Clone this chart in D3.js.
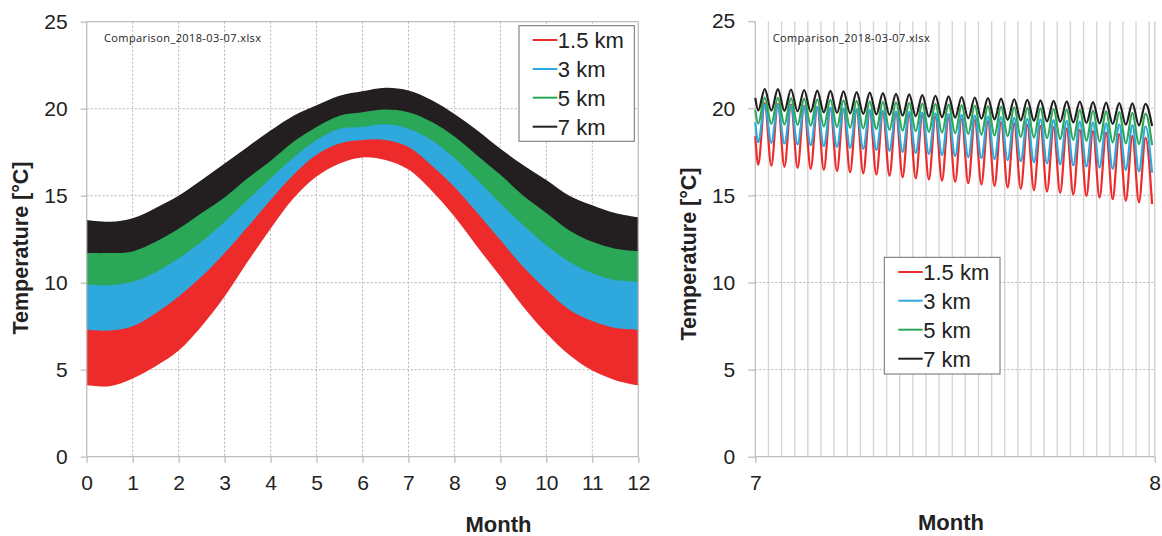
<!DOCTYPE html>
<html>
<head>
<meta charset="utf-8">
<script src="https://cdn.jsdelivr.net/npm/d3@7"></script>
<style>
  html, body { margin: 0; padding: 0; background: #fff; }
  svg { display: block; font-family: "Liberation Sans", Arial, sans-serif; }
</style>
</head>
<body>
<svg id="chart" width="1162" height="536"></svg>
<script>
// ---------------- DATA ----------------
const seriesNames = ["1.5 km", "3 km", "5 km", "7 km"];
const seriesColors = ["#ee2b2b", "#2ea8dd", "#2aa858", "#231f20"];
const yTicks = [0, 5, 10, 15, 20, 25];
const leftXTicks = [0, 1, 2, 3, 4, 5, 6, 7, 8, 9, 10, 11, 12];
const rightXTicks = [7, 8];
const fileLabel = "Comparison_2018-03-07.xlsx";

// Left chart: daily min / max envelope of each series, sampled every half month
const monthSamples = [0, 0.5, 1, 1.5, 2, 2.5, 3, 3.5, 4, 4.5, 5, 5.5, 6, 6.5, 7, 7.5, 8, 8.5, 9, 9.5, 10, 10.5, 11, 11.5, 12];
const red15Min   = [4.1, 4.05, 4.5, 5.2, 6.1, 7.5, 9.2, 11.2, 13.1, 14.85, 16.1, 16.85, 17.2, 17.05, 16.5, 15.3, 13.8, 12.05, 10.35, 8.6, 7.1, 5.85, 4.95, 4.4, 4.1];
const red15Max   = [12.2, 12.2, 12.3, 12.85, 13.6, 14.5, 15.4, 16.5, 17.5, 18.6, 19.45, 20.1, 20.3, 20.45, 20.3, 19.75, 18.9, 17.8, 16.7, 15.5, 14.5, 13.5, 12.85, 12.45, 12.3];
const blue3Min   = [7.3, 7.25, 7.5, 8.25, 9.2, 10.35, 11.7, 13.2, 14.75, 16.2, 17.35, 18.0, 18.2, 18.2, 17.8, 16.75, 15.5, 14.0, 12.45, 10.9, 9.6, 8.45, 7.8, 7.4, 7.3];
const blue3Max   = [12.1, 12.1, 12.2, 12.75, 13.5, 14.4, 15.3, 16.4, 17.4, 18.5, 19.35, 20.0, 20.2, 20.35, 20.2, 19.65, 18.8, 17.7, 16.6, 15.4, 14.4, 13.4, 12.75, 12.35, 12.2];
const green5Min  = [9.9, 9.85, 10.05, 10.6, 11.4, 12.35, 13.5, 14.75, 16.0, 17.2, 18.2, 18.85, 18.95, 19.1, 18.85, 18.2, 17.15, 15.9, 14.55, 13.3, 12.15, 11.2, 10.55, 10.15, 10.05];
const green5Max  = [12.5, 12.5, 12.6, 13.15, 13.9, 14.8, 15.7, 16.8, 17.8, 18.9, 19.75, 20.4, 20.6, 20.75, 20.6, 20.05, 19.2, 18.1, 17.0, 15.8, 14.8, 13.8, 13.15, 12.75, 12.6];
const black7Min  = [11.7, 11.7, 11.8, 12.35, 13.1, 14.0, 14.9, 16.0, 17.0, 18.1, 18.95, 19.6, 19.8, 19.95, 19.8, 19.25, 18.4, 17.3, 16.2, 15.0, 14.0, 13.0, 12.35, 11.95, 11.8];
const black7Max  = [13.6, 13.5, 13.7, 14.3, 15.0, 15.9, 16.85, 17.8, 18.75, 19.6, 20.2, 20.75, 21.0, 21.2, 21.05, 20.5, 19.7, 18.75, 17.7, 16.75, 15.9, 15.0, 14.45, 14.0, 13.75];

// Right chart: month 7 -> 8, daily troughs (31) and peaks (30)
const daysInMonth = 30.42;
const dayIndex = [0,1,2,3,4,5,6,7,8,9,10,11,12,13,14,15,16,17,18,19,20,21,22,23,24,25,26,27,28,29,30];
const startValues = [18.4, 19.2, 19.9, 20.6];
const red15DayMin = [16.75,16.70,16.64,16.58,16.52,16.46,16.40,16.33,16.26,16.19,16.12,16.05,15.98,15.91,15.84,15.77,15.70,15.62,15.54,15.46,15.38,15.30,15.22,15.14,15.05,14.96,14.87,14.78,14.69,14.60,14.50];
const red15DayMax = [20.30,20.26,20.21,20.15,20.09,20.03,19.97,19.91,19.85,19.79,19.73,19.66,19.60,19.53,19.47,19.40,19.33,19.27,19.20,19.13,19.06,18.99,18.92,18.85,18.77,18.69,18.61,18.52,18.42,18.30];
const blue3DayMin = [18.05,18.02,17.98,17.93,17.88,17.83,17.78,17.73,17.67,17.61,17.56,17.50,17.44,17.38,17.32,17.26,17.20,17.14,17.08,17.02,16.96,16.90,16.84,16.78,16.72,16.66,16.60,16.53,16.46,16.38,16.30];
const blue3DayMax = [20.20,20.18,20.15,20.11,20.07,20.03,19.99,19.95,19.91,19.87,19.83,19.79,19.75,19.71,19.67,19.62,19.58,19.54,19.50,19.45,19.41,19.37,19.32,19.28,19.23,19.18,19.13,19.08,19.03,18.97];
const green5DayMin = [19.12,19.10,19.07,19.04,19.00,18.96,18.92,18.88,18.84,18.80,18.76,18.72,18.68,18.64,18.60,18.56,18.52,18.48,18.44,18.40,18.36,18.32,18.28,18.24,18.19,18.14,18.09,18.04,17.99,17.94,17.89];
const green5DayMax = [20.62,20.60,20.58,20.55,20.52,20.49,20.46,20.43,20.40,20.37,20.34,20.31,20.28,20.25,20.22,20.19,20.16,20.13,20.10,20.06,20.03,20.00,19.96,19.93,19.89,19.86,19.82,19.78,19.74,19.70];
const black7DayMin = [19.88,19.87,19.85,19.83,19.80,19.77,19.74,19.71,19.68,19.65,19.62,19.58,19.55,19.52,19.49,19.46,19.43,19.40,19.37,19.34,19.31,19.28,19.25,19.22,19.19,19.16,19.13,19.10,19.06,19.02,18.98];
const black7DayMax = [21.10,21.10,21.08,21.05,21.02,21.00,20.97,20.93,20.90,20.87,20.83,20.80,20.76,20.72,20.69,20.65,20.62,20.58,20.55,20.52,20.49,20.46,20.43,20.40,20.38,20.35,20.33,20.30,20.28,20.25];
const troughPhase = 0.22, peakPhase = 0.72; // fraction of a day

// ---------------- DRAW ----------------
const svg = d3.select("#chart");
const txtColor = "#222";
const axisColor = "#bdbdbd";
const gridColor = "#b5b5b5";

const bandMins = [red15Min, blue3Min, green5Min, black7Min];
const bandMaxs = [red15Max, blue3Max, green5Max, black7Max];
const dayMins = [red15DayMin, blue3DayMin, green5DayMin, black7DayMin];
const dayMaxs = [red15DayMax, blue3DayMax, green5DayMax, black7DayMax];

function styleAxis(g) {
  g.select(".domain").remove();
  g.selectAll(".tick line").attr("stroke", axisColor).attr("stroke-width", 1.3);
  g.selectAll(".tick text").attr("fill", txtColor).style("font-size", "21px")
    .style("font-family", "'Liberation Sans', Arial, sans-serif");
}

function legend(x0, y0, w, h, rowYs, lineX0, lineX1) {
  const g = svg.append("g");
  g.append("rect").attr("x", x0).attr("y", y0).attr("width", w).attr("height", h)
    .attr("fill", "#fff").attr("stroke", "#6f6f6f").attr("stroke-width", 1);
  seriesNames.forEach((name, i) => {
    g.append("line").attr("x1", lineX0).attr("x2", lineX1).attr("y1", rowYs[i]).attr("y2", rowYs[i])
      .attr("stroke", seriesColors[i]).attr("stroke-width", 2);
    g.append("text").attr("x", lineX1 + 0.5).attr("y", rowYs[i]).attr("dy", "0.36em")
      .attr("fill", txtColor).style("font-size", "22px").text(name);
  });
}

// ===== LEFT CHART =====
{
  const x = d3.scaleLinear().domain([0, 12]).range([86.7, 638.3]);
  const y = d3.scaleLinear().domain([0, 25]).range([456.7, 21.7]);
  const g = svg.append("g");

  // grid
  g.selectAll(".vg").data(leftXTicks.filter(d => d > 0 && d < 12)).join("line")
    .attr("x1", d => x(d)).attr("x2", d => x(d)).attr("y1", y(25)).attr("y2", y(0))
    .attr("stroke", gridColor).attr("stroke-width", 1).attr("stroke-dasharray", "2,2");
  g.selectAll(".hg").data(yTicks.filter(d => d > 0 && d < 25)).join("line")
    .attr("x1", x(0)).attr("x2", x(12)).attr("y1", d => y(d)).attr("y2", d => y(d))
    .attr("stroke", gridColor).attr("stroke-width", 1).attr("stroke-dasharray", "2,2");

  // bands
  bandMins.forEach((mins, i) => {
    const area = d3.area()
      .x((d, j) => x(monthSamples[j]))
      .y0((d, j) => y(mins[j]))
      .y1((d, j) => y(bandMaxs[i][j]))
      .curve(d3.curveCatmullRom.alpha(0.5));
    g.append("path").datum(monthSamples).attr("d", area).attr("fill", seriesColors[i]);
  });

  // frame
  g.append("line").attr("x1", x(0)).attr("x2", x(12)).attr("y1", y(25)).attr("y2", y(25)).attr("stroke", axisColor).attr("stroke-width", 1.3);
  g.append("line").attr("x1", x(12)).attr("x2", x(12)).attr("y1", y(25)).attr("y2", y(0)).attr("stroke", axisColor).attr("stroke-width", 1.3);
  g.append("line").attr("x1", x(0)).attr("x2", x(12)).attr("y1", y(0)).attr("y2", y(0)).attr("stroke", axisColor).attr("stroke-width", 1.3);
  g.append("line").attr("x1", x(0)).attr("x2", x(0)).attr("y1", y(25)).attr("y2", y(0)).attr("stroke", axisColor).attr("stroke-width", 1.3);

  // axes
  g.append("g").attr("transform", `translate(${x(0)},0)`)
    .call(d3.axisLeft(y).tickValues(yTicks).tickSize(6).tickPadding(13).tickFormat(d3.format("d")))
    .call(styleAxis);
  g.append("g").attr("transform", `translate(0,${y(0)})`)
    .call(d3.axisBottom(x).tickValues(leftXTicks).tickSize(6).tickPadding(12).tickFormat(d3.format("d")))
    .call(styleAxis);

  g.append("text").attr("x", 104).attr("y", 41.5).attr("fill", txtColor)
    .style("font-size", "11px").style("font-family", "'Open Sans', 'Liberation Sans', sans-serif")
    .attr("textLength", 157).text(fileLabel);

  g.append("text").attr("x", 498.5).attr("y", 531.5).attr("text-anchor", "middle")
    .attr("fill", txtColor).style("font-size", "22px").style("font-weight", "bold").text("Month");
  g.append("text").attr("transform", "translate(27.5,248) rotate(-90)").attr("text-anchor", "middle")
    .attr("fill", txtColor).style("font-size", "21.5px").style("font-weight", "bold").text("Temperature [°C]");

  legend(519, 25.7, 115.3, 115.6, [40, 69, 97.7, 126.7], 532.7, 557.3);
}

// ===== RIGHT CHART =====
{
  const x = d3.scaleLinear().domain([7, 8]).range([755.3, 1154.7]);
  const y = d3.scaleLinear().domain([0, 25]).range([456.7, 21.2]);
  const g = svg.append("g");

  // daily vertical grid
  g.selectAll(".dg").data(dayIndex.filter(d => d > 0)).join("line")
    .attr("x1", d => x(7 + d / daysInMonth)).attr("x2", d => x(7 + d / daysInMonth))
    .attr("y1", y(25)).attr("y2", y(0))
    .attr("stroke", "#d6d6d6").attr("stroke-width", 1.4);
  g.append("line").attr("x1", x(8)).attr("x2", x(8)).attr("y1", y(25)).attr("y2", y(0))
    .attr("stroke", "#d0d0d0").attr("stroke-width", 1.4);
  g.selectAll(".hg").data(yTicks.filter(d => d > 0 && d < 25)).join("line")
    .attr("x1", x(7)).attr("x2", x(8)).attr("y1", d => y(d)).attr("y2", d => y(d))
    .attr("stroke", gridColor).attr("stroke-width", 1).attr("stroke-dasharray", "2,2");

  g.append("line").attr("x1", x(7)).attr("x2", x(7)).attr("y1", y(25)).attr("y2", y(0)).attr("stroke", axisColor).attr("stroke-width", 1.3);
  g.append("line").attr("x1", x(7)).attr("x2", x(8)).attr("y1", y(0)).attr("y2", y(0)).attr("stroke", axisColor).attr("stroke-width", 1.3);

  // series lines
  dayMins.forEach((mins, i) => {
    const pts = [[7, startValues[i]]];
    dayIndex.forEach(d => {
      pts.push([7 + (d + troughPhase) / daysInMonth, mins[d]]);
      if (d < dayMaxs[i].length) pts.push([7 + (d + peakPhase) / daysInMonth, dayMaxs[i][d]]);
    });
    const line = d3.line().x(p => x(p[0])).y(p => y(p[1])).curve(d3.curveMonotoneX);
    g.append("path").datum(pts).attr("d", line).attr("fill", "none")
      .attr("stroke", seriesColors[i]).attr("stroke-width", 2.2);
  });

  g.append("g").attr("transform", `translate(${x(7)},0)`)
    .call(d3.axisLeft(y).tickValues(yTicks).tickSize(7).tickPadding(13).tickFormat(d3.format("d")))
    .call(styleAxis);
  g.append("g").attr("transform", `translate(0,${y(0)})`)
    .call(d3.axisBottom(x).tickValues(rightXTicks).tickSize(6).tickPadding(12).tickFormat(d3.format("d")))
    .call(styleAxis);

  g.append("text").attr("x", 772.7).attr("y", 41.5).attr("fill", txtColor)
    .style("font-size", "11px").style("font-family", "'Open Sans', 'Liberation Sans', sans-serif")
    .attr("textLength", 157).text(fileLabel);

  g.append("text").attr("x", 951).attr("y", 530).attr("text-anchor", "middle")
    .attr("fill", txtColor).style("font-size", "22px").style("font-weight", "bold").text("Month");
  g.append("text").attr("transform", "translate(695.5,254) rotate(-90)").attr("text-anchor", "middle")
    .attr("fill", txtColor).style("font-size", "21.5px").style("font-weight", "bold").text("Temperature [°C]");

  legend(884.3, 257.3, 115.7, 116.7, [272, 300.7, 329.7, 358.7], 898.3, 922.7);
}
</script>
</body>
</html>
